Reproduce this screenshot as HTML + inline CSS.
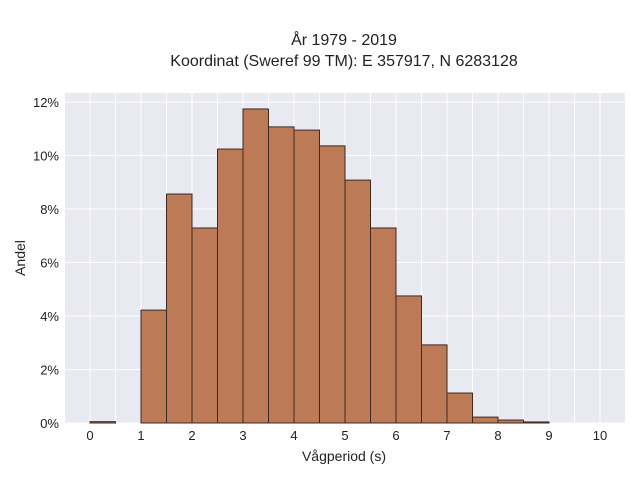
<!DOCTYPE html>
<html><head><meta charset="utf-8"><style>
body{margin:0;background:#fff;font-family:"Liberation Sans",sans-serif;}
text{font-family:"Liberation Sans",sans-serif;fill:#222;}
</style></head><body>
<svg width="640" height="480">
<rect x="64" y="93" width="561" height="330" fill="#e9e9f1"/>
<g id="grid"></g><g id="bars"></g><g id="axes"></g>
<text x="344" y="45" text-anchor="middle" font-size="16">År 1979 - 2019</text>
<text x="344" y="66" text-anchor="middle" font-size="16">Koordinat (Sweref 99 TM): E 357917, N 6283128</text>
<text x="344" y="461" text-anchor="middle" font-size="14">Vågperiod (s)</text>
<text x="25" y="258" text-anchor="middle" font-size="14" transform="rotate(-90 25 258)">Andel</text>
</svg>
<script>
const binStarts=[0,0.5,1,1.5,2,2.5,3,3.5,4,4.5,5,5.5,6,6.5,7,7.5,8,8.5,9,9.5];
const shares=[0.05,0,4.22,8.56,7.29,10.24,11.74,11.07,10.95,10.36,9.08,7.29,4.75,2.92,1.12,0.22,0.11,0.04,0,0];
const xTicks=[0,1,2,3,4,5,6,7,8,9,10];
const yTicks=[0,2,4,6,8,10,12];
const binWidth=0.5;
const NS="http://www.w3.org/2000/svg";
const X=v=>90+v*51, Y=v=>423-v*26.75;
const grid=document.getElementById('grid'),bars=document.getElementById('bars'),axes=document.getElementById('axes');
function mk(tag,a,p){const e=document.createElementNS(NS,tag);for(const k in a)e.setAttribute(k,a[k]);p.appendChild(e);return e;}
for(let v=-0.5;v<=10.5;v+=0.5){const x=X(v);if(x<64||x>625)continue;
const l=mk('line',{x1:x,x2:x,y1:93,y2:423,stroke:'#fff','stroke-width':1},grid);

}
yTicks.forEach(t=>{const l=mk('line',{x1:64,x2:625,y1:Y(t),y2:Y(t),stroke:'#fff','stroke-width':1},grid);


const tx=mk('text',{x:59,y:Y(t)+5,'text-anchor':'end','font-size':13},axes);tx.textContent=t+'%';

});
xTicks.forEach(t=>{const tx=mk('text',{x:X(t),y:440,'text-anchor':'middle','font-size':13},axes);tx.textContent=t;

});
binStarts.forEach((b,i)=>{if(shares[i]<=0)return;
const r=mk('rect',{x:X(b),y:Y(shares[i]),width:X(b+binWidth)-X(b),height:Y(0)-Y(shares[i]),fill:'#bc7a56',stroke:'#3a2a22','stroke-width':1},bars);

});
</script>
</body></html>
